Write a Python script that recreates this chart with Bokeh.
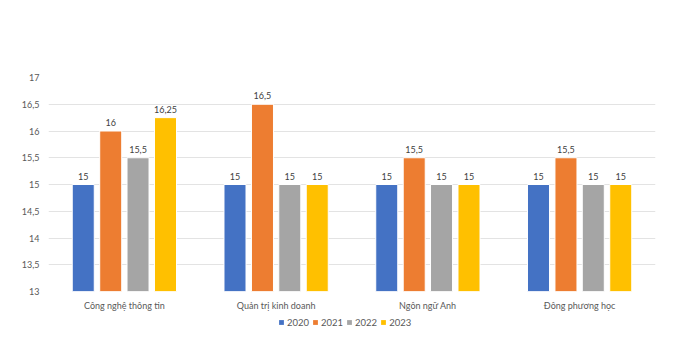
from bokeh.plotting import figure
from bokeh.layouts import column
from bokeh.models import ColumnDataSource, FactorRange, Range1d, FixedTicker, Legend, LegendItem
from bokeh.transform import dodge
from bokeh.core.properties import value
from bokeh.embed import file_html
from bokeh.resources import INLINE

categories = ["Công nghệ thông tin", "Quản trị kinh doanh", "Ngôn ngữ Anh", "Đông phương học"]
years = ["2020", "2021", "2022", "2023"]
v2020 = [15, 15, 15, 15]
v2021 = [16, 16.5, 15.5, 15.5]
v2022 = [15.5, 15, 15, 15]
v2023 = [16.25, 15, 15, 15]
colors = ["#4472C4", "#ED7D31", "#A5A5A5", "#FFC000"]
y_ticks = [13, 13.5, 14, 14.5, 15, 15.5, 16, 16.5, 17]
y_tick_labels = ["13", "13,5", "14", "14,5", "15", "15,5", "16", "16,5", "17"]

def fmt(v):
    s = ("%g" % v)
    return s.replace(".", ",")

FONT = "Lato"

p = figure(width=700, height=313, output_backend="svg", toolbar_location=None,
           x_range=FactorRange(*categories, range_padding=0), y_range=Range1d(13, 17),
           min_border_left=48, min_border_right=45, min_border_top=77, min_border_bottom=21)
p.outline_line_color = None
p.background_fill_color = "white"
p.border_fill_color = "white"

series = [v2020, v2021, v2022, v2023]
offsets = [-0.271, -0.09, 0.09, 0.271]
for yr, vals, col, off in zip(years, series, colors, offsets):
    src = ColumnDataSource(dict(cat=categories, val=vals, lab=[fmt(v) for v in vals]))
    p.vbar(x=dodge("cat", off, range=p.x_range), top="val", bottom=13, width=0.145,
           source=src, fill_color=col, line_color="white", line_width=1)
    p.text(x=dodge("cat", off, range=p.x_range), y="val", text="lab", source=src,
           text_align="center", text_baseline="bottom", y_offset=-5,
           text_font=value(FONT), text_font_size="9px", text_color="#404040")

p.yaxis.ticker = FixedTicker(ticks=y_ticks)
p.yaxis.major_label_overrides = {t: l for t, l in zip(y_ticks, y_tick_labels)}
for ax in (p.xaxis, p.yaxis):
    ax.axis_line_color = None
    ax.major_tick_line_color = None
    ax.minor_tick_line_color = None
    ax.major_tick_out = 0
    ax.major_tick_in = 0
    ax.major_label_text_font = FONT
    ax.major_label_text_font_size = "9px"
    ax.major_label_text_color = "#595959"
p.yaxis.major_label_standoff = 9
p.xaxis.major_label_standoff = 8
p.xgrid.grid_line_color = None
p.ygrid.grid_line_color = "#E3E3E3"
p.ygrid.grid_line_width = 1

# legend strip below the chart
p2 = figure(width=700, height=45, output_backend="svg", toolbar_location=None,
            x_range=FactorRange(*years), y_range=Range1d(0, 1), x_axis_type=None, y_axis_type=None,
            min_border=0)
p2.outline_line_color = None
p2.grid.grid_line_color = None
items = []
for yr, col in zip(years, colors):
    r = p2.vbar(x=[yr], top=[0], bottom=[0], width=0.1, fill_color=col, line_color=col, line_width=0)
    items.append(LegendItem(label=yr, renderers=[r]))
legend = Legend(items=items, orientation="horizontal", location=(230, 30),
                label_text_font=FONT, label_text_font_size="9.5px", label_text_color="#595959",
                glyph_width=6, glyph_height=6, label_height=12, label_width=17, label_standoff=3,
                spacing=3, padding=2, margin=0, border_line_color=None,
                background_fill_alpha=0)
p2.add_layout(legend)

open("out.html", "w").write(file_html(column(p, p2, spacing=0), INLINE))
